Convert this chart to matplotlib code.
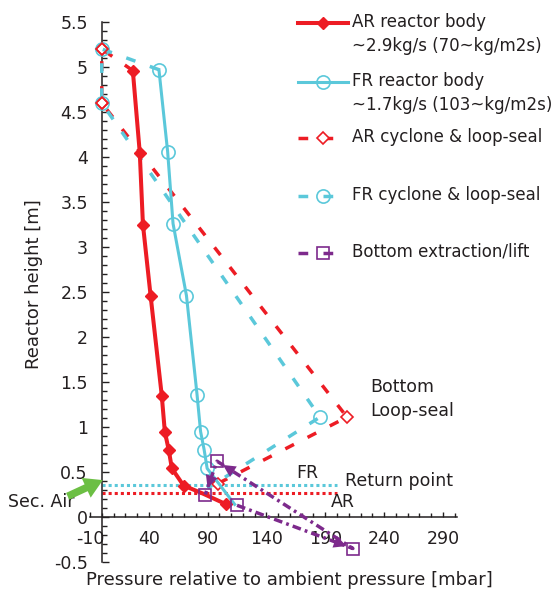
import matplotlib
matplotlib.use("Agg")
import matplotlib.pyplot as plt
import numpy as np
from matplotlib.ticker import MultipleLocator, FixedLocator

plt.rcParams['font.family'] = ['DejaVu Sans']
plt.rcParams['axes.unicode_minus'] = False

# colours
RED = '#ED1C24'
CYAN = '#5BC8DA'
PURPLE = '#7D2A8C'
GREEN = '#6CBF44'
INK = '#231F20'

# AR reactor body
ar_x = [26.4, 32.3, 35.0, 41.5, 51.0, 53.6, 57.0, 59.6, 69.5, 86.0, 106.0]
ar_y = [4.96, 4.05, 3.25, 2.46, 1.35, 0.95, 0.74, 0.54, 0.35, 0.26, 0.14]

# FR reactor body
fr_x = [48.6, 56.0, 60.6, 72.0, 81.0, 84.0, 87.0, 89.6, 113.0]
fr_y = [4.97, 4.06, 3.26, 2.46, 1.36, 0.95, 0.75, 0.54, 0.14]

# cyclone & loop-seal (reactor top -> cyclone in -> cyclone out -> loop-seal bottom -> return)
arc_x = [26.4, 0.0, 0.0, 208.5, 98.5]
arc_y = [4.96, 5.20, 4.60, 1.11, 0.37]
frc_x = [48.6, 0.0, 0.0, 185.5, 90.0]
frc_y = [4.97, 5.20, 4.60, 1.11, 0.32]

# bottom extraction / lift loop
lift_x = [115.0, 213.5, 98.0, 88.0]
lift_y = [0.13, -0.35, 0.62, 0.25]

# return point levels
ret_fr = 0.36
ret_ar = 0.27
ret_end = 200

xticks = [-10, 40, 90, 140, 190, 240, 290]

fig = plt.figure(figsize=(5.58, 6.0), dpi=100)
ax = fig.add_axes([90/558, 38/600, 367/558, 540/600])
ax.set_xlim(-10, 302)
ax.set_ylim(-0.5, 5.5)

# return point dotted lines
ax.plot([0, ret_end], [ret_fr, ret_fr], color=CYAN, lw=2.2, ls=(0, (1, 1)), zorder=2)
ax.plot([0, ret_end], [ret_ar, ret_ar], color=RED, lw=2.2, ls=(0, (1, 1)), zorder=2)

dash = (0, (2.8, 4.4))
ax.plot(arc_x, arc_y, color=RED, lw=2.5, ls=dash, marker='D', ms=6.4, mfc='white',
        mec=RED, mew=1.2, markevery=[1, 2, 3, 4], zorder=3, clip_on=False)
ax.plot(frc_x, frc_y, color=CYAN, lw=2.5, ls=dash, marker='o', ms=9.5, mfc='none',
        mec=CYAN, mew=1.2, markevery=[1, 2, 3], zorder=3, clip_on=False)
# redraw AR cyclone markers on top of cyan circles
ax.plot(arc_x[1:3], arc_y[1:3], ls='none', marker='D', ms=6.4, mfc='none', mec=RED, mew=1.2,
        zorder=4, clip_on=False)

ax.plot(fr_x, fr_y, color=CYAN, lw=2.2, marker='o', ms=9.5, mfc='none', mec=CYAN, mew=1.2,
        markevery=list(range(8)), zorder=4)
ax.plot(ar_x, ar_y, color=RED, lw=2.9, marker='D', ms=6.5, mfc=RED, mec=RED,
        markevery=list(range(9)) + [10], zorder=5)

# lift loop with arrows
ax.plot(lift_x, lift_y, color=PURPLE, lw=2.5, ls=(0, (2.5, 1.2, 0.8, 1.2)), zorder=6)
ax.plot(lift_x, lift_y, ls='none', marker='s', ms=8.4, mfc='none', mec=PURPLE, mew=1.2, zorder=7)
for i in range(len(lift_x) - 1):
    ax.annotate('', xy=(lift_x[i + 1], lift_y[i + 1]), xytext=(lift_x[i], lift_y[i]),
                arrowprops=dict(arrowstyle='-|>,head_length=0.9,head_width=0.45', color=PURPLE,
                                lw=0, shrinkA=0, shrinkB=5), zorder=7)

# axes styling: axes cross at (0, 0)
for s in ['top', 'right']:
    ax.spines[s].set_visible(False)
ax.spines['left'].set_position(('data', 0))
ax.spines['bottom'].set_position(('data', 0))
for s in ['left', 'bottom']:
    ax.spines[s].set_linewidth(1.1)
    ax.spines[s].set_color(INK)

ax.xaxis.set_major_locator(FixedLocator(xticks))
ax.xaxis.set_minor_locator(MultipleLocator(10))
ax.yaxis.set_major_locator(MultipleLocator(0.5))
ax.yaxis.set_minor_locator(MultipleLocator(0.1))
ax.set_yticks(np.arange(-0.5, 5.51, 0.5))
ax.set_yticklabels(['-0.5', '0', '0.5', '1', '1.5', '2', '2.5', '3', '3.5', '4', '4.5', '5', '5.5'])
ax.tick_params(axis='both', which='both', direction='in', colors=INK, width=1, labelsize=12.5)
ax.tick_params(axis='x', which='major', length=3.5, pad=9)
ax.tick_params(axis='x', which='minor', length=3)
ax.tick_params(axis='y', which='major', length=5, pad=10)
ax.tick_params(axis='y', which='minor', length=3.5)

ax.set_xlabel('Pressure relative to ambient pressure [mbar]', fontsize=13, color=INK)
ax.xaxis.set_label_coords(0.542, -0.017)
ax.set_ylabel('Reactor height [m]', fontsize=13, color=INK)
ax.yaxis.set_label_coords(-0.129, 0.515)

# annotations
ax.text(175, 0.49, 'FR', fontsize=12.5, color=INK, ha='center', va='center')
ax.text(205, 0.17, 'AR', fontsize=12.5, color=INK, ha='center', va='center')
ax.text(207, 0.40, 'Return point', fontsize=12.5, color=INK, ha='left', va='center')
ax.text(228, 1.44, 'Bottom', fontsize=12.5, color=INK, ha='left', va='center')
ax.text(228, 1.18, 'Loop-seal', fontsize=12.5, color=INK, ha='left', va='center')
ax.text(-80, 0.17, 'Sec. Air', fontsize=12.5, color=INK, ha='left', va='center', clip_on=False)
ax.annotate('', xy=(0.9, 0.41), xytext=(-29, 0.23), annotation_clip=False,
            arrowprops=dict(arrowstyle='simple,head_length=1.1,head_width=1.3,tail_width=0.45',
                            fc=GREEN, ec='none', shrinkA=0, shrinkB=0, mutation_scale=12))

# legend drawn in pixel space
lg = fig.add_axes([0, 0, 1, 1], facecolor='none')
lg.set_xlim(0, 558)
lg.set_ylim(600, 0)
lg.axis('off')

leg_y = [23, 82, 138, 196, 253]
leg_labels = ['AR reactor body\n~2.9kg/s (70~kg/m2s)', 'FR reactor body\n~1.7kg/s (103~kg/m2s)',
              'AR cyclone & loop-seal', 'FR cyclone & loop-seal', 'Bottom extraction/lift']
leg_styles = [
    dict(color=RED, lw=2.9, marker='D', ms=6.5, mfc=RED, mec=RED),
    dict(color=CYAN, lw=2.2, marker='o', ms=9.5, mfc='none', mec=CYAN, mew=1.2),
    dict(color=RED, lw=2.5, ls=dash, marker='D', ms=6.4, mfc='white', mec=RED, mew=1.2),
    dict(color=CYAN, lw=2.5, ls=dash, marker='o', ms=9.5, mfc='none', mec=CYAN, mew=1.2),
    dict(color=PURPLE, lw=2.5, ls=dash, marker='s', ms=8.4, mfc='none', mec=PURPLE, mew=1.2),
]
for yy, lab, st in zip(leg_y, leg_labels, leg_styles):
    lg.plot([298, 323, 348], [yy, yy, yy], markevery=[1], **st)
    lg.text(352, yy - 10, lab, fontsize=12, color=INK, ha='left', va='top', linespacing=1.45)

fig.savefig('out.png', dpi=100)
